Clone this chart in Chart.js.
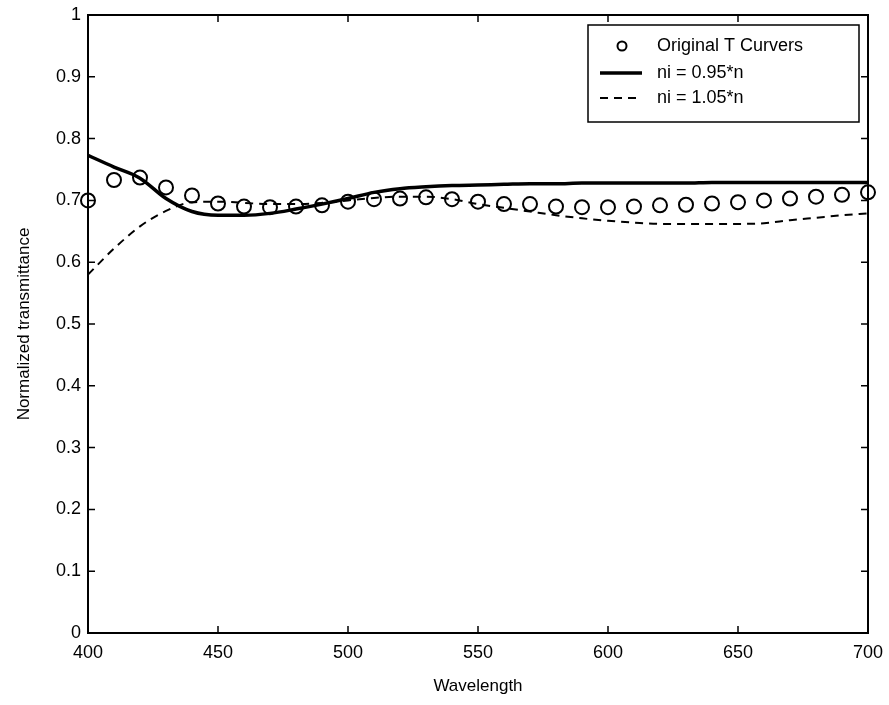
<!DOCTYPE html>
<html>
<head>
<meta charset="utf-8">
<script src="https://cdn.jsdelivr.net/npm/chart.js@4/dist/chart.umd.min.js"></script>
<style>
  html, body { margin: 0; padding: 0; background: #fff; }
  #wrap { width: 889px; height: 705px; }
</style>
</head>
<body>
<div id="wrap"><canvas id="c" width="889" height="705"></canvas></div>
<script>
// wavelength grid (nm), one point every 10 nm
const wavelengths = [400,410,420,430,440,450,460,470,480,490,500,510,520,530,540,550,560,570,580,590,600,610,620,630,640,650,660,670,680,690,700];

// measured curve (circles)
const originalT = [0.700,0.733,0.737,0.721,0.708,0.695,0.690,0.689,0.690,0.692,0.698,0.702,0.703,0.705,0.702,0.698,0.694,0.694,0.690,0.689,0.689,0.690,0.692,0.693,0.695,0.697,0.700,0.703,0.706,0.709,0.713];

// ni = 0.95*n (solid)
const low095 = [0.773,0.754,0.736,0.703,0.682,0.676,0.676,0.679,0.686,0.694,0.703,0.713,0.719,0.722,0.724,0.725,0.726,0.727,0.727,0.728,0.728,0.728,0.728,0.728,0.729,0.729,0.729,0.729,0.729,0.729,0.729];

// ni = 1.05*n (dashed)
const high105 = [0.580,0.622,0.658,0.683,0.697,0.698,0.696,0.694,0.694,0.696,0.700,0.704,0.706,0.706,0.702,0.694,0.688,0.682,0.676,0.671,0.667,0.664,0.662,0.662,0.662,0.662,0.663,0.668,0.672,0.676,0.679];

const seriesLabels = ['Original T Curvers', 'ni = 0.95*n', 'ni = 1.05*n'];
const xTicks = [400,450,500,550,600,650,700];
const yTicks = [0,0.1,0.2,0.3,0.4,0.5,0.6,0.7,0.8,0.9,1];

const FONT = '"Liberation Sans", Arial, Helvetica, sans-serif';
const pts = arr => arr.map((v, i) => ({ x: wavelengths[i], y: v }));

// MATLAB style box with inward ticks on all sides
const framePlugin = {
  id: 'frame',
  afterDatasetsDraw(chart){
    const { ctx, chartArea: a, scales } = chart;
    const tl = 7;
    ctx.save();
    ctx.strokeStyle = '#000';
    ctx.lineWidth = 2;
    ctx.strokeRect(a.left, a.top, a.right - a.left, a.bottom - a.top);
    ctx.lineWidth = 1.5;
    ctx.beginPath();
    xTicks.forEach(t => {
      const px = scales.x.getPixelForValue(t);
      ctx.moveTo(px, a.bottom); ctx.lineTo(px, a.bottom - tl);
      ctx.moveTo(px, a.top); ctx.lineTo(px, a.top + tl);
    });
    yTicks.forEach(t => {
      const py = scales.y.getPixelForValue(t);
      ctx.moveTo(a.left, py); ctx.lineTo(a.left + tl, py);
      ctx.moveTo(a.right, py); ctx.lineTo(a.right - tl, py);
    });
    ctx.stroke();
    ctx.restore();
  }
};

// legend box inside the plot, top right
const legendPlugin = {
  id: 'boxLegend',
  afterDraw(chart){
    const { ctx, chartArea: a } = chart;
    const bx = 588, by = 25, bw = a.right - 9 - bx, bh = 97;
    ctx.save();
    ctx.fillStyle = '#fff';
    ctx.fillRect(bx, by, bw, bh);
    ctx.strokeStyle = '#000';
    ctx.lineWidth = 1.5;
    ctx.strokeRect(bx, by, bw, bh);
    const rows = [by + 21, by + 48, by + 73];
    chart.data.datasets.forEach((ds, i) => {
      const y = rows[i];
      ctx.strokeStyle = '#000';
      ctx.setLineDash(ds.borderDash || []);
      if(ds.showLine === false){
        ctx.lineWidth = 2;
        ctx.beginPath(); ctx.arc(622, y, 4.5, 0, Math.PI * 2); ctx.stroke();
      } else {
        ctx.lineWidth = ds.borderWidth;
        ctx.beginPath(); ctx.moveTo(600, y); ctx.lineTo(642, y); ctx.stroke();
      }
      ctx.setLineDash([]);
      ctx.fillStyle = '#000';
      ctx.font = '18px ' + FONT;
      ctx.textBaseline = 'middle';
      ctx.fillText(ds.label, 657, y);
    });
    ctx.restore();
  }
};

new Chart(document.getElementById('c'), {
  type: 'scatter',
  data: {
    datasets: [
      { label: seriesLabels[0], data: pts(originalT), showLine: false, clip: false,
        pointStyle: 'circle', pointRadius: 7, pointBorderWidth: 2,
        pointBorderColor: '#000', pointBackgroundColor: 'rgba(0,0,0,0)' },
      { label: seriesLabels[1], data: pts(low095), showLine: true, borderColor: '#000',
        borderWidth: 3.5, pointRadius: 0, cubicInterpolationMode: 'monotone' },
      { label: seriesLabels[2], data: pts(high105), showLine: true, borderColor: '#000',
        borderWidth: 2, borderDash: [8, 6], pointRadius: 0, cubicInterpolationMode: 'monotone' }
    ]
  },
  options: {
    animation: false,
    responsive: false,
    devicePixelRatio: 1,
    layout: { padding: { top: 15, right: 21, left: 0, bottom: 0 } },
    plugins: { legend: { display: false }, tooltip: { enabled: false } },
    scales: {
      x: {
        type: 'linear', min: 400, max: 700,
        afterBuildTicks: s => { s.ticks = xTicks.map(v => ({ value: v })); },
        afterFit: s => { s.height = 72; s.paddingLeft = 0; s.paddingRight = 0; },
        grid: { display: false, drawTicks: false },
        border: { display: false },
        ticks: { color: '#000', padding: 9, font: { family: FONT, size: 18 }, callback: v => String(v) },
        title: { display: true, text: 'Wavelength', color: '#000', padding: { top: 0, bottom: 8 },
                 font: { family: FONT, size: 17 } }
      },
      y: {
        type: 'linear', min: 0, max: 1,
        afterBuildTicks: s => { s.ticks = yTicks.map(v => ({ value: v })); },
        afterFit: s => { s.width = 88; s.paddingTop = 0; s.paddingBottom = 0; },
        grid: { display: false, drawTicks: false },
        border: { display: false },
        ticks: { color: '#000', padding: 7, font: { family: FONT, size: 18 }, callback: v => String(v) },
        title: { display: true, text: 'Normalized transmittance', color: '#000', padding: { top: 14, bottom: 0 },
                 font: { family: FONT, size: 17 } }
      }
    }
  },
  plugins: [framePlugin, legendPlugin]
});
</script>
</body>
</html>
